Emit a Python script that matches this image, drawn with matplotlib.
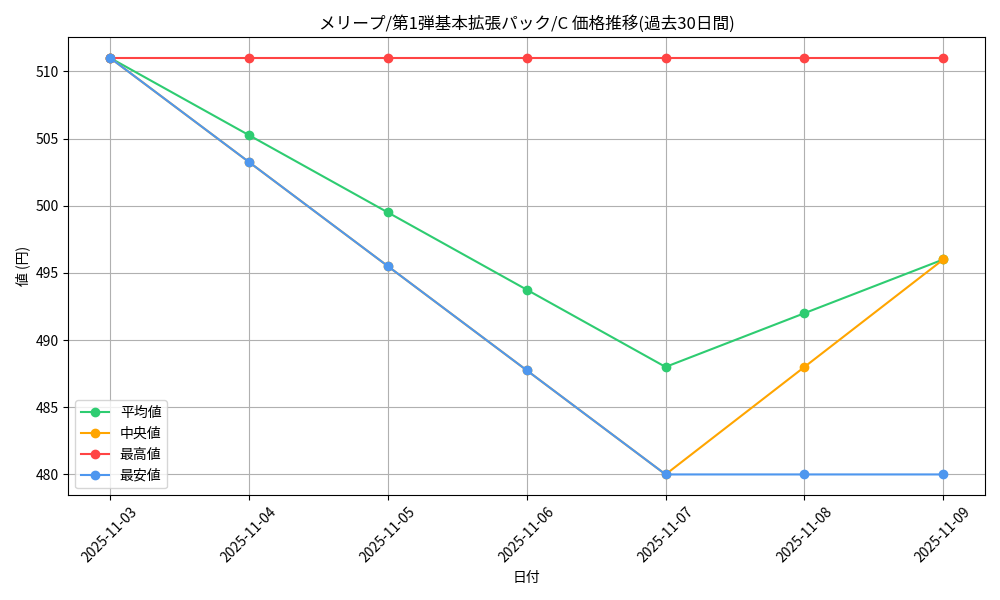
import matplotlib
matplotlib.use("Agg")
import matplotlib.pyplot as plt

plt.rcParams['font.family'] = ['Noto Sans CJK JP', 'DejaVu Sans']

dates = ["2025-11-03","2025-11-04","2025-11-05","2025-11-06","2025-11-07","2025-11-08","2025-11-09"]
avg = [511, 505.25, 499.5, 493.75, 488, 492, 496]
median = [511, 503.25, 495.5, 487.75, 480, 488, 496]
maxv = [511, 511, 511, 511, 511, 511, 511]
minv = [511, 503.25, 495.5, 487.75, 480, 480, 480]

fig, ax = plt.subplots(figsize=(10, 6), dpi=100)
x = range(len(dates))
ax.plot(x, avg, marker='o', color='#2ecc71', label='平均値')
ax.plot(x, median, marker='o', color='#ffa500', label='中央値')
ax.plot(x, maxv, marker='o', color='#ff4444', label='最高値')
ax.plot(x, minv, marker='o', color='#4e97ef', label='最安値')
ax.set_xticks(list(x))
ax.set_xticklabels(dates, rotation=45)
ax.set_title('メリープ/第1弾基本拡張パック/C 価格推移(過去30日間)')
ax.set_xlabel('日付')
ax.set_ylabel('値 (円)')
ax.grid(True)
ax.legend(loc='lower left')
fig.tight_layout()
fig.savefig('out.png')
